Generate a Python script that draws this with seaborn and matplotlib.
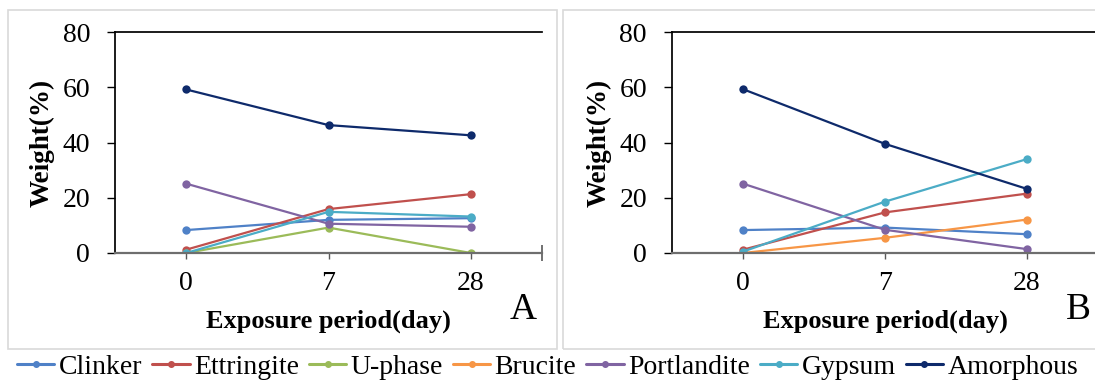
import pandas as pd
import matplotlib
matplotlib.use('Agg')
import matplotlib.pyplot as plt
from matplotlib.lines import Line2D
from matplotlib.patches import Rectangle
import seaborn as sns

sns.set_theme(style='white')
plt.rcParams['font.family'] = ['Liberation Serif', 'DejaVu Serif']

days = ['0', '7', '28']
phases = ['Clinker', 'Ettringite', 'U-phase', 'Brucite', 'Portlandite', 'Gypsum', 'Amorphous']
colors = ['#4F81C7', '#C0504D', '#9BBB59', '#F79646', '#8064A2', '#4BACC6', '#0E2A6B']

# panel A
clinker_a = [8.3, 12.0, 12.6]
ettringite_a = [1.2, 15.9, 21.3]
uphase_a = [0.0, 9.2, 0.0]
portlandite_a = [25.1, 10.6, 9.5]
gypsum_a = [0.0, 14.9, 13.2]
amorphous_a = [59.2, 46.3, 42.6]

# panel B
clinker_b = [8.3, 9.2, 6.8]
ettringite_b = [1.2, 14.7, 21.5]
brucite_b = [0.0, 5.5, 12.1]
portlandite_b = [25.1, 8.4, 1.4]
gypsum_b = [0.5, 18.6, 34.0]
amorphous_b = [59.3, 39.5, 23.2]

series_a = {'Clinker': clinker_a, 'Ettringite': ettringite_a, 'U-phase': uphase_a,
            'Portlandite': portlandite_a, 'Gypsum': gypsum_a, 'Amorphous': amorphous_a}
series_b = {'Clinker': clinker_b, 'Ettringite': ettringite_b, 'Brucite': brucite_b,
            'Portlandite': portlandite_b, 'Gypsum': gypsum_b, 'Amorphous': amorphous_b}
palette = dict(zip(phases, colors))


def to_long(series):
    rows = []
    for name, vals in series.items():
        for i, v in enumerate(vals):
            rows.append({'phase': name, 'pos': i, 'weight': v})
    return pd.DataFrame(rows)


W, H = 1095, 380
fig = plt.figure(figsize=(W / 100, H / 100), dpi=100)

# light grey panel frames
for x0, x1 in [(8, 557), (563, 1102)]:
    fig.patches.append(Rectangle((x0 / W, 1 - 349 / H), (x1 - x0) / W, 339 / H,
                                 transform=fig.transFigure, fill=False,
                                 edgecolor='#D9D9D9', linewidth=1.2))

panels = [(series_a, 115, 542, 'A', 523), (series_b, 672, 1098, 'B', 1078)]
for series, left, right, tag, tag_x in panels:
    ax = fig.add_axes([left / W, 1 - 253 / H, (right - left) / W, (253 - 32) / H])
    df = to_long(series)
    sns.lineplot(data=df, x='pos', y='weight', hue='phase', palette=palette,
                 marker='o', markersize=6, markeredgewidth=0, linewidth=1.6,
                 legend=False, ax=ax)
    ax.set_xlim(-0.5, 2.5)
    ax.set_ylim(0, 80)
    ax.set_yticks([0, 20, 40, 60, 80])
    ax.set_xticks(range(len(days)))
    ax.set_xticklabels(days)
    ax.set_xticks([2.5], minor=True)
    ax.tick_params(axis='both', labelsize=20)
    ax.tick_params(axis='y', direction='out', length=6, width=1, left=True, pad=12, colors='black')
    ax.tick_params(axis='x', which='major', direction='out', length=4, width=1, bottom=True,
                   pad=9, colors='#595959')
    ax.tick_params(axis='x', which='minor', direction='inout', length=12, width=1.2,
                   bottom=True, colors='#595959')
    for lbl in ax.get_xticklabels() + ax.get_yticklabels():
        lbl.set_color('black')
    ax.spines['right'].set_visible(False)
    ax.spines['left'].set_color('black')
    ax.spines['top'].set_color('black')
    ax.spines['bottom'].set_color('#6E6E6E')
    ax.spines['bottom'].set_linewidth(1.6)
    ax.set_ylabel('Weight(%)', fontsize=19.5, fontweight='bold', color='black')
    ax.set_xlabel('Exposure period(day)', fontsize=19, fontweight='bold', color='black')
    ax.yaxis.set_label_coords(-0.172, 0.5)
    ax.xaxis.set_label_coords(0.5, -0.31)
    ax.xaxis.label.set_va('center')
    ax.yaxis.label.set_va('center')
    fig.text(tag_x / W, 1 - 310 / H, tag, fontsize=27, ha='center', va='center', color='black')

handles = [Line2D([0], [0], color=c, lw=2.2, marker='o', markersize=4) for c in colors]
fig.legend(handles, phases, loc='center', bbox_to_anchor=(0.5, 1 - 367 / H), ncol=7,
           frameon=False, fontsize=20, handlelength=1.35, handletextpad=0.15,
           columnspacing=0.36, borderpad=0, borderaxespad=0, labelcolor='black')

fig.savefig('out.png', dpi=100)
